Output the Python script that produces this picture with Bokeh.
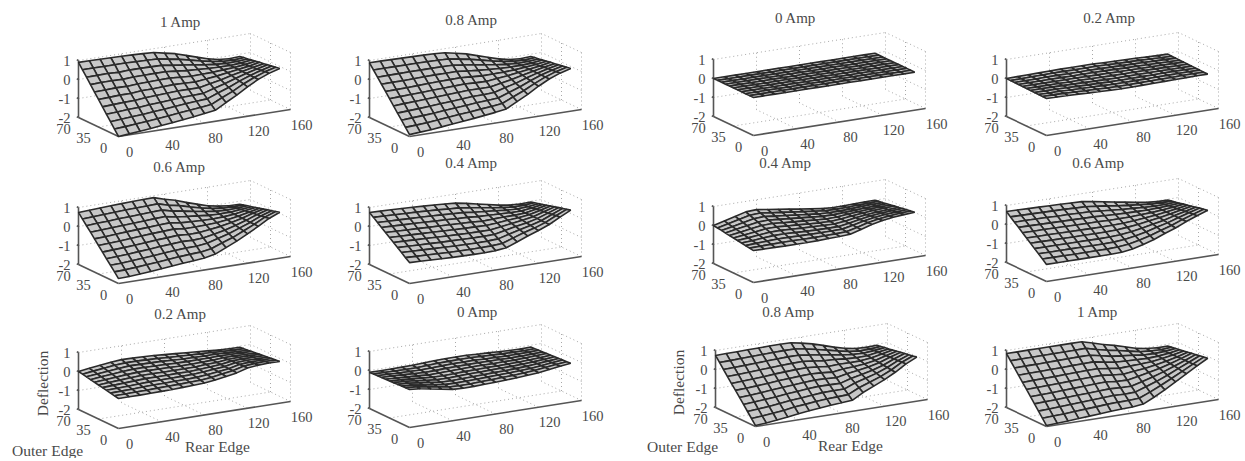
from bokeh.plotting import figure
from bokeh.models import Range1d
from bokeh.embed import file_html
from bokeh.resources import INLINE
from bokeh.core.properties import value
import math

rear_mm = [0, 10, 20, 30, 40, 50, 60, 70, 80, 90, 100, 110, 120, 130, 140, 150]
outer_mm = [0, 7, 14, 21, 28, 35, 42, 49, 56, 63, 70]
x_ticks = [0, 40, 80, 120, 160]
y_ticks = [0, 35, 70]
z_ticks = [-2, -1, 0, 1]

# deflection x 100, rows run from outer_mm 0 to 70
left_1_0 = [
[-200,-195,-190,-185,-178,-172,-165,-158,-150,-142,-110,-80,-45,-15,8,25],
[-171,-167,-162,-158,-152,-146,-140,-134,-128,-122,-95,-70,-40,-15,6,21],
[-142,-138,-134,-131,-125,-121,-115,-110,-106,-102,-80,-60,-35,-14,3,18],
[-113,-110,-106,-104,-98,-95,-91,-87,-85,-83,-66,-50,-31,-14,1,14],
[-84,-81,-78,-77,-72,-69,-66,-63,-63,-63,-51,-40,-26,-13,-1,10],
[-55,-53,-50,-50,-45,-44,-41,-39,-41,-43,-36,-30,-21,-13,-4,7],
[-26,-24,-22,-23,-19,-18,-16,-15,-19,-23,-21,-20,-16,-12,-6,3],
[3,5,6,4,8,8,9,9,3,-3,-6,-10,-11,-12,-8,-1],
[32,33,34,31,34,34,33,32,24,16,8,0,-7,-11,-10,-5],
[61,62,61,61,61,59,58,56,46,36,23,10,-2,-11,-13,-8],
[90,90,89,88,87,85,83,80,68,56,38,20,3,-10,-15,-12]]
left_0_8 = [
[-190,-186,-182,-176,-170,-164,-158,-151,-144,-135,-105,-76,-42,-13,9,25],
[-162,-159,-155,-150,-144,-139,-134,-128,-123,-116,-91,-67,-38,-13,7,21],
[-134,-131,-128,-124,-119,-114,-110,-105,-102,-97,-77,-57,-33,-12,4,18],
[-107,-104,-101,-97,-93,-90,-86,-82,-81,-78,-62,-48,-29,-12,2,14],
[-79,-76,-74,-71,-68,-65,-62,-59,-60,-59,-48,-38,-24,-12,0,10],
[-51,-49,-47,-45,-42,-40,-38,-36,-39,-40,-34,-28,-20,-12,-3,7],
[-23,-22,-21,-19,-17,-15,-14,-13,-17,-21,-20,-19,-16,-11,-5,3],
[5,6,6,7,9,10,10,10,4,-2,-6,-10,-11,-11,-8,-1],
[32,33,33,34,34,34,34,33,25,17,9,0,-7,-11,-10,-5],
[60,60,60,60,60,59,58,56,46,36,23,10,-2,-10,-13,-8],
[88,88,87,86,85,84,82,79,67,55,37,19,2,-10,-15,-12]]
left_0_6 = [
[-174,-172,-168,-163,-158,-152,-147,-142,-137,-125,-100,-75,-45,-15,18,42],
[-149,-147,-143,-138,-134,-128,-123,-119,-116,-107,-86,-66,-40,-14,15,36],
[-124,-122,-118,-114,-109,-104,-100,-96,-95,-88,-72,-56,-35,-14,11,30],
[-100,-97,-94,-89,-85,-80,-76,-72,-74,-70,-59,-47,-31,-13,8,25],
[-75,-72,-69,-65,-61,-56,-53,-49,-53,-52,-45,-37,-26,-12,5,19],
[-50,-47,-44,-40,-36,-32,-29,-26,-33,-33,-31,-28,-21,-12,1,13],
[-25,-23,-19,-15,-12,-9,-5,-3,-12,-15,-17,-18,-16,-11,-2,7],
[0,3,6,9,12,15,18,20,9,3,-3,-9,-11,-10,-5,1],
[24,28,30,34,36,39,42,44,30,21,10,1,-7,-10,-8,-4],
[49,52,55,58,61,63,65,67,51,40,24,10,-2,-9,-12,-10],
[74,77,80,83,85,87,89,90,72,58,38,20,3,-8,-15,-16]]
left_0_4 = [
[-90,-92,-94,-96,-98,-99,-100,-100,-98,-92,-70,-48,-28,-5,25,53],
[-74,-76,-78,-80,-82,-83,-84,-84,-83,-79,-60,-41,-25,-5,22,47],
[-57,-59,-61,-63,-65,-67,-68,-69,-68,-65,-50,-35,-21,-5,19,42],
[-41,-43,-45,-47,-49,-50,-52,-53,-53,-52,-40,-28,-18,-4,16,36],
[-24,-26,-28,-30,-32,-34,-36,-38,-38,-38,-30,-22,-14,-4,13,30],
[-8,-10,-12,-14,-16,-18,-20,-22,-23,-25,-20,-15,-11,-4,10,25],
[8,6,4,2,0,-2,-4,-6,-8,-12,-10,-8,-8,-4,6,19],
[25,23,21,19,17,14,12,9,7,2,0,-2,-4,-4,3,13],
[41,39,37,35,33,31,28,25,22,15,10,5,-1,-3,0,7],
[58,56,54,52,50,47,44,40,37,29,20,11,3,-3,-3,2],
[74,72,70,68,66,63,60,56,52,42,30,18,6,-3,-6,-4]]
left_0_2 = [
[-42,-42,-42,-41,-40,-39,-37,-35,-32,-25,-15,-5,12,18,20,20],
[-38,-37,-36,-35,-33,-32,-31,-29,-27,-21,-12,-4,11,16,18,17],
[-34,-32,-31,-28,-27,-26,-25,-24,-22,-17,-10,-3,10,14,15,15],
[-29,-27,-25,-22,-20,-19,-19,-18,-17,-13,-7,-2,9,12,12,12],
[-25,-22,-19,-16,-13,-13,-13,-12,-12,-9,-5,-1,8,10,10,10],
[-21,-17,-13,-10,-7,-6,-7,-7,-7,-6,-2,0,7,8,8,7],
[-17,-12,-8,-3,0,0,0,-1,-2,-2,0,2,6,6,5,4],
[-13,-7,-2,3,7,7,6,5,3,2,3,3,5,4,3,2],
[-8,-2,4,9,14,13,12,11,8,6,5,4,4,2,0,-1],
[-4,3,9,16,20,20,18,16,13,10,8,5,3,0,-3,-3],
[0,8,15,22,27,26,24,22,18,14,10,6,2,-2,-5,-6]]
left_0_0 = [
[0,-5,-15,-25,-35,-38,-37,-35,-33,-30,-27,-23,-18,-10,-2,5],
[-1,-5,-14,-23,-32,-35,-34,-31,-30,-27,-25,-21,-17,-10,-3,3],
[-2,-6,-14,-22,-30,-31,-30,-28,-26,-24,-22,-19,-16,-10,-4,2],
[-3,-6,-13,-20,-27,-28,-27,-25,-23,-21,-20,-18,-15,-10,-5,0],
[-4,-7,-12,-19,-24,-25,-23,-21,-20,-18,-17,-16,-14,-10,-6,-1],
[-5,-8,-12,-17,-21,-22,-20,-18,-17,-15,-15,-14,-13,-10,-7,-3],
[-6,-8,-12,-15,-19,-18,-16,-14,-13,-12,-13,-12,-12,-10,-7,-4],
[-7,-8,-11,-14,-16,-15,-12,-11,-10,-9,-10,-10,-11,-10,-8,-6],
[-8,-9,-11,-12,-13,-11,-9,-7,-7,-6,-8,-9,-10,-10,-9,-7],
[-9,-9,-10,-11,-11,-8,-5,-4,-3,-3,-5,-7,-9,-10,-10,-9],
[-10,-10,-10,-9,-8,-5,-2,0,0,0,-3,-5,-8,-10,-11,-10]]
right_0_0 = [[0] * 16 for _ in outer_mm]
right_0_2 = [
[-5,-6,-7,-9,-11,-13,-15,-16,-16,-15,-14,-13,-12,-11,-10,-10],
[-5,-5,-6,-8,-10,-11,-13,-14,-14,-13,-12,-12,-11,-10,-9,-10],
[-4,-5,-5,-7,-8,-9,-11,-12,-12,-11,-11,-10,-10,-9,-9,-9],
[-4,-4,-4,-5,-7,-8,-9,-10,-10,-10,-9,-9,-8,-8,-8,-9],
[-3,-3,-3,-4,-5,-6,-7,-8,-8,-8,-8,-7,-7,-8,-8,-8],
[-3,-3,-3,-3,-4,-4,-5,-6,-6,-6,-6,-6,-6,-7,-7,-8],
[-2,-2,-2,-2,-2,-2,-3,-3,-3,-4,-4,-5,-5,-6,-6,-7],
[-2,-1,-1,-1,-1,-1,-1,-1,-1,-2,-3,-3,-4,-5,-6,-7],
[-1,-1,0,1,1,1,1,1,1,0,-1,-2,-2,-4,-5,-6],
[-1,0,1,2,3,3,3,3,3,2,0,0,-1,-3,-5,-6],
[0,1,2,3,4,5,5,5,5,3,2,1,0,-2,-4,-5]]
right_0_4 = [
[-32,-33,-33,-34,-34,-34,-33,-31,-29,-26,-10,8,20,28,33,37],
[-29,-28,-27,-26,-26,-27,-27,-26,-25,-23,-9,7,18,25,30,33],
[-26,-23,-20,-18,-18,-19,-20,-20,-20,-19,-8,6,15,22,26,30],
[-22,-19,-14,-10,-9,-12,-14,-15,-16,-16,-7,4,13,19,23,26],
[-19,-14,-8,-2,-1,-4,-7,-9,-11,-12,-6,3,10,16,19,22],
[-16,-9,-2,6,7,3,0,-4,-7,-9,-5,2,8,13,16,19],
[-13,-4,5,13,15,10,6,2,-2,-6,-4,1,6,10,13,15],
[-10,1,11,21,23,18,13,8,3,-2,-3,0,3,7,9,11],
[-6,5,17,29,32,25,19,13,7,1,-2,-2,1,4,6,7],
[-3,10,24,37,40,33,26,19,12,5,-1,-3,-2,1,2,4],
[0,15,30,45,48,40,32,24,16,8,0,-4,-4,-2,-1,0]]
right_0_6 = [
[-110,-110,-110,-110,-110,-110,-110,-108,-100,-85,-68,-45,-25,0,22,42],
[-92,-92,-92,-93,-93,-93,-93,-91,-85,-73,-58,-39,-22,0,19,37],
[-74,-75,-75,-75,-75,-76,-76,-75,-70,-60,-48,-32,-18,0,17,33],
[-57,-57,-57,-58,-58,-58,-59,-58,-55,-48,-39,-26,-15,0,14,28],
[-39,-39,-40,-40,-41,-41,-42,-42,-40,-35,-29,-19,-11,0,12,23],
[-21,-22,-22,-23,-24,-24,-25,-25,-25,-23,-19,-13,-8,0,9,18],
[-3,-4,-4,-5,-6,-7,-8,-8,-10,-10,-9,-6,-4,1,6,14],
[15,14,13,12,11,10,9,8,5,3,1,0,0,1,4,9],
[32,32,31,30,28,28,26,25,20,15,10,7,3,1,1,4],
[50,49,48,47,46,45,43,41,35,28,20,13,7,1,-1,0],
[68,67,66,65,63,62,60,58,50,40,30,20,10,1,-4,-5]]
right_0_8 = [
[-195,-190,-184,-177,-168,-162,-156,-150,-146,-142,-110,-85,-60,-30,5,32],
[-168,-164,-158,-152,-143,-138,-132,-127,-125,-122,-95,-75,-54,-28,4,28],
[-141,-137,-132,-126,-119,-114,-109,-104,-103,-103,-80,-64,-47,-25,2,24],
[-114,-110,-106,-101,-94,-90,-85,-81,-82,-83,-66,-54,-41,-23,1,21],
[-87,-84,-80,-75,-70,-66,-62,-58,-60,-63,-51,-43,-34,-20,0,17],
[-60,-58,-54,-50,-45,-42,-38,-36,-39,-44,-36,-33,-28,-18,-2,13],
[-34,-31,-28,-25,-20,-17,-14,-13,-18,-24,-21,-22,-21,-15,-3,9],
[-7,-5,-2,1,4,7,9,10,4,-4,-6,-12,-15,-13,-4,5],
[20,22,24,26,29,31,33,33,25,16,8,-1,-8,-10,-5,2],
[47,48,50,52,53,55,56,56,47,35,23,10,-2,-8,-7,-2],
[74,75,76,77,78,79,80,79,68,55,38,20,5,-5,-8,-6]]
right_1_0 = [
[-195,-192,-189,-185,-181,-177,-173,-170,-168,-162,-135,-105,-72,-38,-5,26],
[-167,-164,-162,-158,-154,-151,-147,-145,-144,-141,-118,-92,-64,-35,-6,22],
[-139,-137,-134,-131,-128,-125,-122,-119,-121,-119,-100,-80,-57,-31,-6,19],
[-111,-109,-107,-104,-101,-99,-96,-94,-97,-98,-83,-67,-49,-28,-7,15],
[-83,-82,-80,-77,-75,-73,-70,-68,-74,-76,-66,-54,-41,-25,-7,12],
[-55,-54,-52,-50,-48,-46,-44,-43,-50,-55,-48,-42,-33,-22,-8,8],
[-28,-26,-25,-24,-22,-20,-19,-18,-26,-34,-31,-29,-26,-18,-8,4],
[0,1,2,3,4,6,7,8,-3,-12,-14,-16,-18,-15,-9,1],
[28,29,29,30,31,32,33,33,21,9,3,-3,-10,-12,-9,-3],
[56,56,57,57,57,58,58,59,44,31,21,9,-3,-8,-10,-6],
[84,84,84,84,84,84,84,84,68,52,38,22,5,-5,-10,-10]]

titles = ["1 Amp", "0.8 Amp", "0 Amp", "0.2 Amp",
          "0.6 Amp", "0.4 Amp", "0.4 Amp", "0.6 Amp",
          "0.2 Amp", "0 Amp", "0.8 Amp", "1 Amp"]
tables = [left_1_0, left_0_8, right_0_0, right_0_2,
          left_0_6, left_0_4, right_0_4, right_0_6,
          left_0_2, left_0_0, right_0_8, right_1_0]

# layout, in page pixels
corners = [(118, 136), (409, 136), (753, 135), (1046, 135),
           (118, 283), (409, 283), (753, 282), (1046, 281),
           (118, 428), (409, 427), (755, 426), (1046, 426)]
title_pos = [(180, 21), (471, 19), (795, 17), (1109, 17),
             (179, 166), (471, 162), (785, 162), (1098, 162),
             (180, 313), (477, 311), (788, 311), (1097, 311)]

W, H = 1241, 458
p = figure(width=W, height=H, output_backend="svg", toolbar_location=None,
           x_range=Range1d(0, W), y_range=Range1d(H, 0),
           x_axis_location=None, y_axis_location=None, min_border=0,
           background_fill_color="white", border_fill_color="white",
           outline_line_color=None)
p.grid.visible = False


def proj(c, x, y, z):
    return (c[0] + 172 * x / 160 - 40 * y / 70,
            c[1] - 27 * x / 160 - 19 * y / 70 - 19 * (z + 2))


dot_x, dot_y, ax_x, ax_y = [], [], [], []
qx, qy = [], []
lab_x, lab_y, lab_t = [], [], []
zlab_x, zlab_y, zlab_t = [], [], []


def seg(xs, ys, c, a, b):
    p0, p1 = proj(c, *a), proj(c, *b)
    xs.append([p0[0], p1[0]])
    ys.append([p0[1], p1[1]])


for c, table in zip(corners, tables):
    xmax, ymax = x_ticks[-1], y_ticks[-1]
    for xv in x_ticks[1:]:
        seg(dot_x, dot_y, c, (xv, ymax, -2), (xv, ymax, 1))
        seg(dot_x, dot_y, c, (xv, 0, -2), (xv, ymax, -2))
    for yv in y_ticks[:-1]:
        seg(dot_x, dot_y, c, (xmax, yv, -2), (xmax, yv, 1))
    seg(dot_x, dot_y, c, (0, 35, -2), (xmax, 35, -2))
    for zv in z_ticks[1:]:
        seg(dot_x, dot_y, c, (0, ymax, zv), (xmax, ymax, zv))
        seg(dot_x, dot_y, c, (xmax, 0, zv), (xmax, ymax, zv))
    seg(ax_x, ax_y, c, (0, ymax, -2), (0, ymax, 1))
    seg(ax_x, ax_y, c, (0, ymax, -2), (0, 0, -2))
    seg(ax_x, ax_y, c, (0, 0, -2), (xmax, 0, -2))
    for zv in z_ticks:
        seg(ax_x, ax_y, c, (0, ymax, zv), (0, ymax + 3, zv))
        sx, sy = proj(c, 0, ymax, zv)
        zlab_x.append(sx - 8)
        zlab_y.append(sy)
        zlab_t.append(str(zv))
    for xv in x_ticks:
        sx, sy = proj(c, xv, 0, -2)
        lab_x.append(sx + 11)
        lab_y.append(sy + 15)
        lab_t.append(str(xv))
    for yv in y_ticks:
        sx, sy = proj(c, 0, yv, -2)
        lab_x.append(sx - 15)
        lab_y.append(sy + 11)
        lab_t.append(str(yv))
    for j in range(len(outer_mm) - 2, -1, -1):
        for i in range(len(rear_mm) - 2, -1, -1):
            pts = [proj(c, rear_mm[a], outer_mm[b], table[b][a] / 100)
                   for a, b in ((i, j), (i + 1, j), (i + 1, j + 1), (i, j + 1))]
            qx.append([q[0] for q in pts])
            qy.append([q[1] for q in pts])

p.multi_line(dot_x, dot_y, line_color="#a8a8a8", line_width=1, line_dash="1 3")
p.multi_line(ax_x, ax_y, line_color="#555555", line_width=1.6)
p.patches(qx, qy, fill_color="#c8c8c8", line_color="#2a2a2a", line_width=1.6)

serif = value("Liberation Serif")
p.text(lab_x, lab_y, text=lab_t, text_font=serif, text_font_size="14.5px",
       text_color="#4a4a4a", text_align="center", text_baseline="middle")
p.text(zlab_x, zlab_y, text=zlab_t, text_font=serif, text_font_size="14.5px",
       text_color="#4a4a4a", text_align="right", text_baseline="middle")
p.text([q[0] for q in title_pos], [q[1] for q in title_pos], text=titles,
       text_font=serif, text_font_size="15px", text_color="#4a4a4a",
       text_align="center", text_baseline="middle")
p.text([47, 682, 217, 850], [450, 446, 446, 445],
       text=["Outer Edge", "Outer Edge", "Rear Edge", "Rear Edge"],
       text_font=serif, text_font_size="15.5px", text_color="#4a4a4a",
       text_align="center", text_baseline="middle")
p.text([42, 678], [383, 382], text=["Deflection", "Deflection"],
       text_font=serif, text_font_size="15.5px", text_color="#4a4a4a",
       text_align="center", text_baseline="middle", angle=math.pi / 2)

open("out.html", "w").write(file_html(p, INLINE))
